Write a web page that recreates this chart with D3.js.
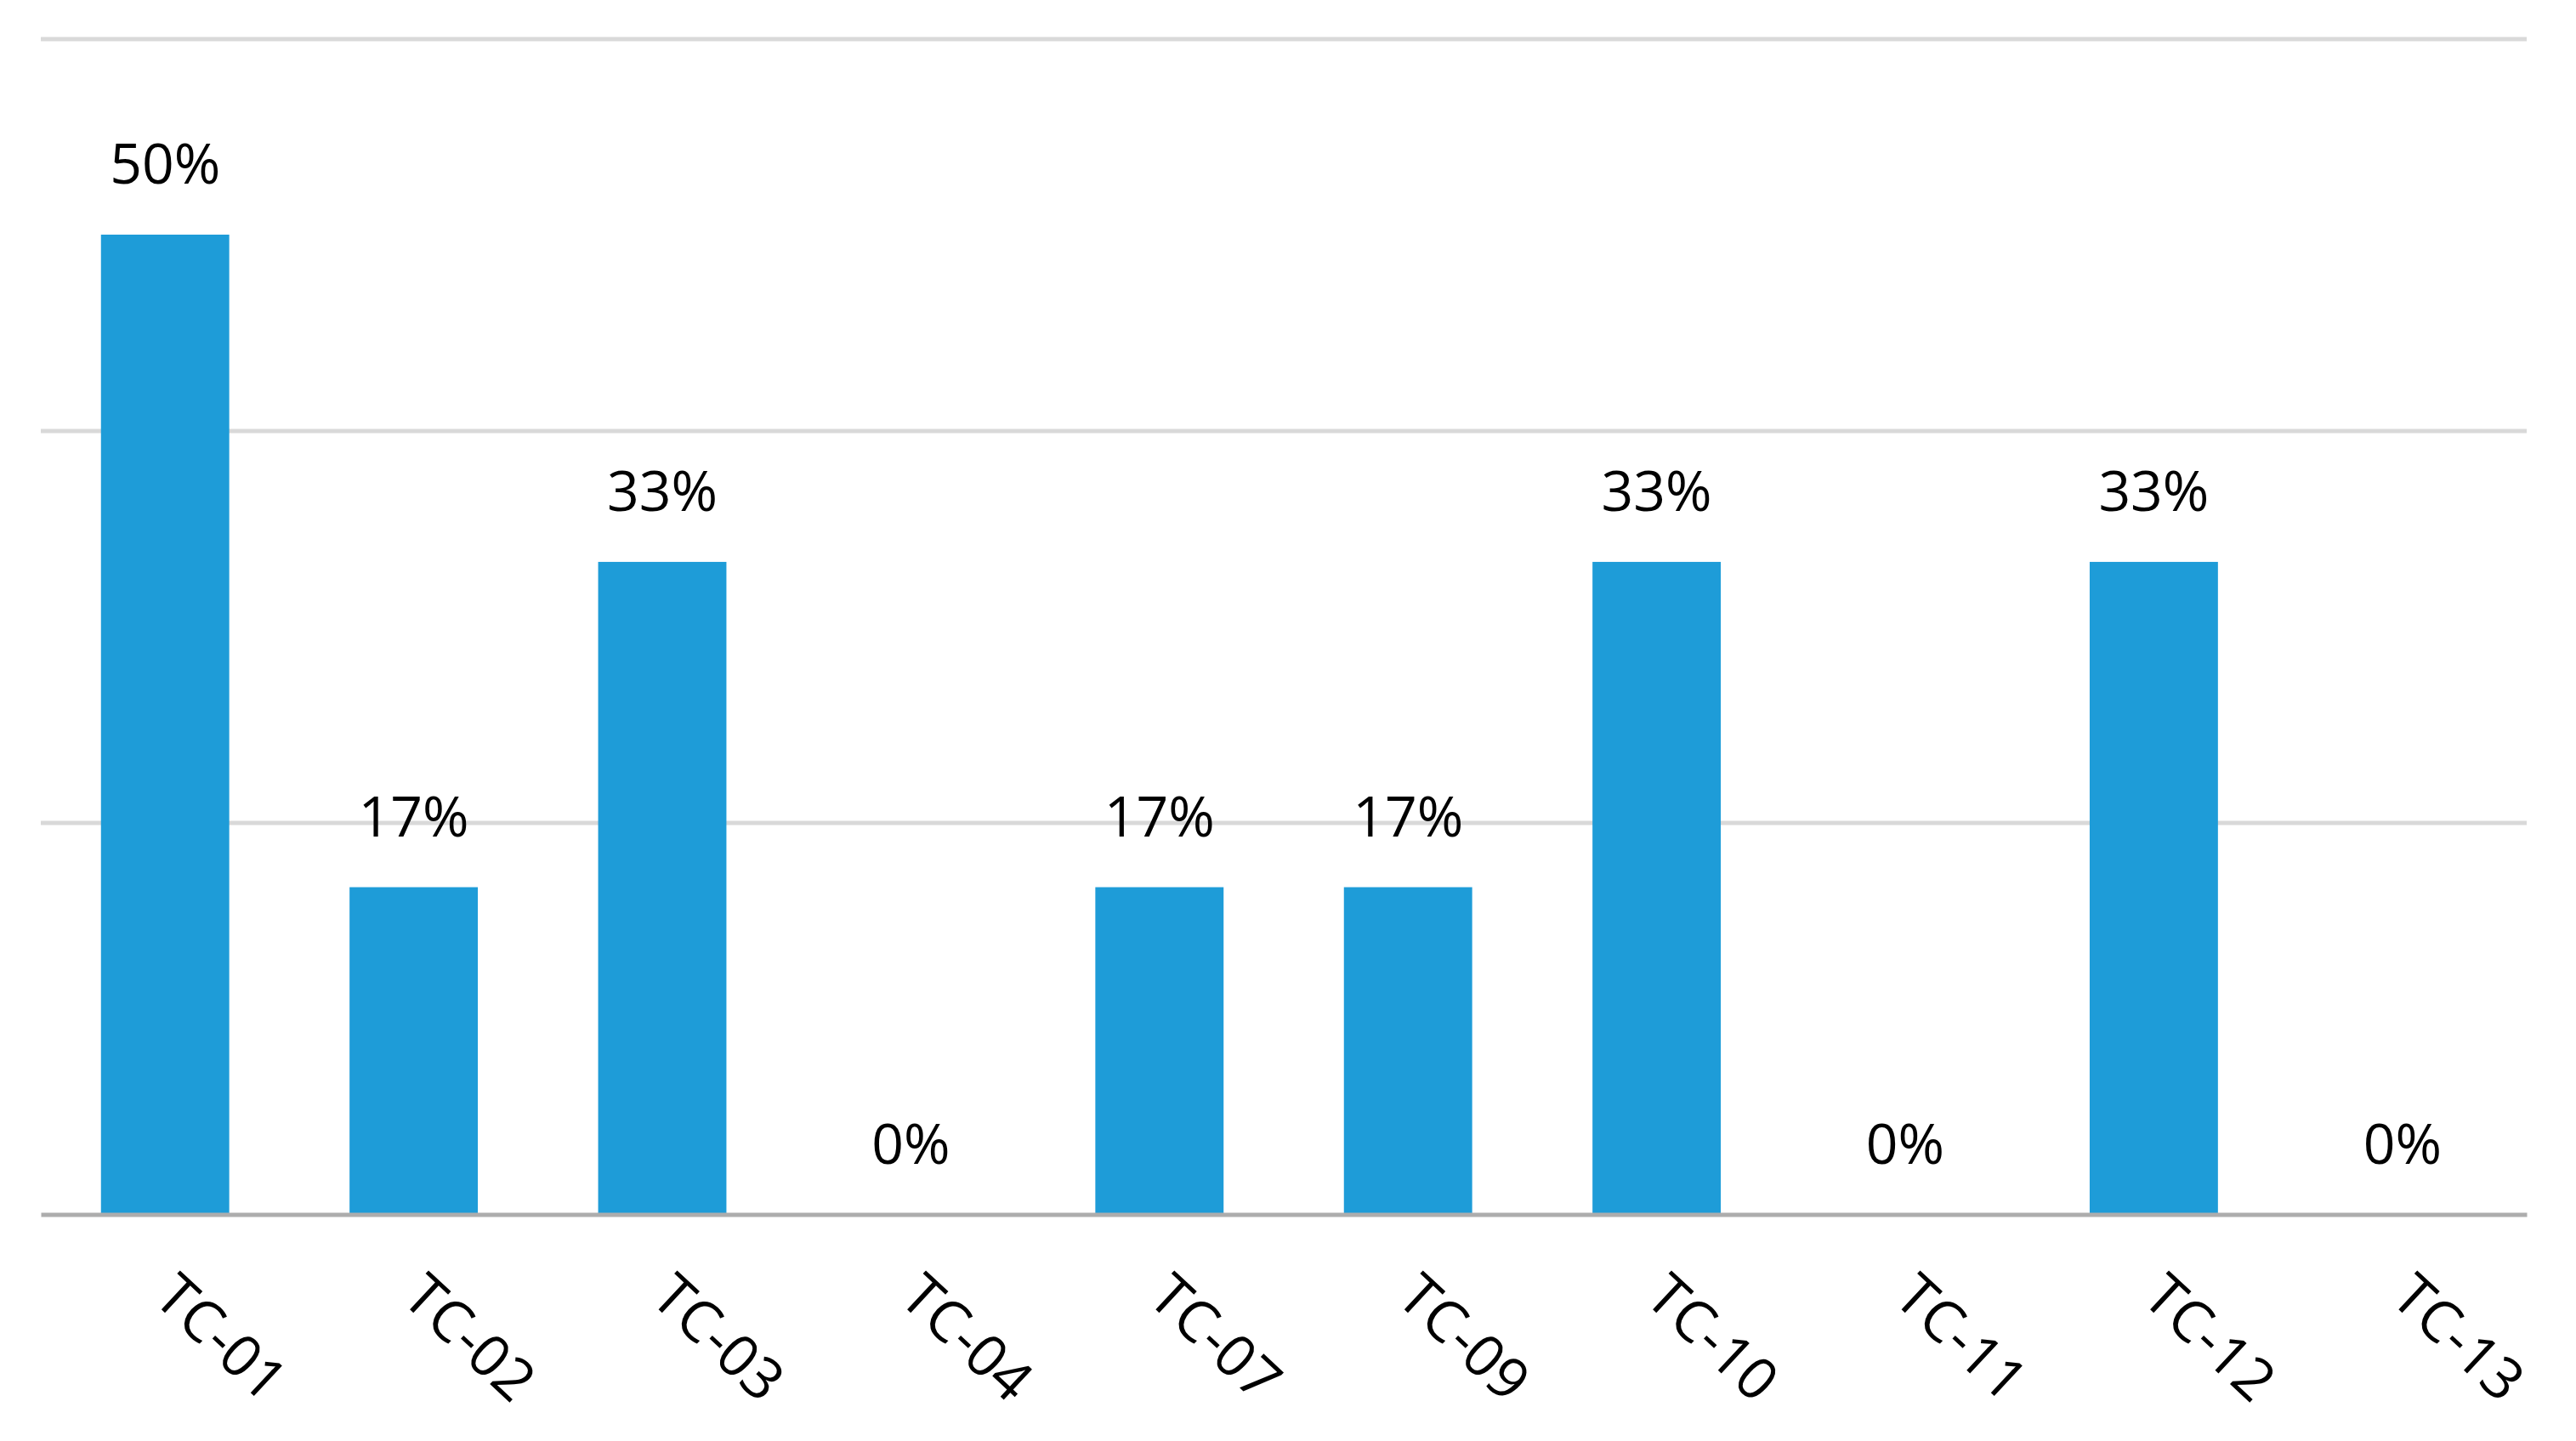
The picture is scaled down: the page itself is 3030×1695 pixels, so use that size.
<!DOCTYPE html>
<html>
<head>
<meta charset="utf-8">
<script src="https://cdn.jsdelivr.net/npm/d3@7"></script>
<style>
  html, body { margin: 0; padding: 0; background: #ffffff; }
  svg { display: block; }
  text { font-family: "Open Sans", "Noto Sans", sans-serif; fill: #000000; }
</style>
</head>
<body>
<svg id="chart" width="3030" height="1695"></svg>
<script>
const categories = ["TC-01", "TC-02", "TC-03", "TC-04", "TC-07", "TC-09", "TC-10", "TC-11", "TC-12", "TC-13"];
const values = [0.5, 0.167, 0.333, 0, 0.167, 0.167, 0.333, 0, 0.333, 0];
const gridTicks = [0.2, 0.4, 0.6];

const W = 3030, H = 1695;
const margin = { left: 48, right: 58, top: 45.5, bottom: 266.5 };
const svg = d3.select("#chart");

const x = d3.scaleBand()
  .domain(categories)
  .range([margin.left, W - margin.right])
  .paddingInner(0.484)
  .paddingOuter(0.242);

const y = d3.scaleLinear()
  .domain([0, 0.6])
  .range([H - margin.bottom, margin.top]);

// gridlines
const grid = svg.append("g")
  .attr("transform", `translate(${margin.left},0)`)
  .call(d3.axisLeft(y).tickValues(gridTicks).tickSize(-(W - margin.left - margin.right)).tickFormat(""));
grid.select(".domain").remove();
grid.selectAll(".tick line").attr("stroke", "#D9D9D9").attr("stroke-width", 5);

// bars
svg.append("g").selectAll("rect")
  .data(categories)
  .join("rect")
  .attr("x", d => x(d))
  .attr("width", x.bandwidth())
  .attr("y", (d, i) => y(values[i]))
  .attr("height", (d, i) => y(0) - y(values[i]))
  .attr("fill", "#1E9CD8");

// x axis
const xAxis = svg.append("g")
  .attr("transform", `translate(0,${y(0)})`)
  .call(d3.axisBottom(x).tickSize(0).tickSizeOuter(0));
xAxis.select(".domain").attr("stroke", "#ADADAD").attr("stroke-width", 5);
xAxis.selectAll(".tick text")
  .attr("y", 0)
  .attr("dy", null)
  .attr("transform", "translate(-16,101) rotate(43)")
  .style("text-anchor", "start")
  .style("font-family", "'Open Sans', 'Noto Sans', sans-serif")
  .style("font-size", "68px")
  .attr("fill", "#000000");

// data labels
const fmt = d3.format(".0%");
svg.append("g").selectAll("text")
  .data(categories)
  .join("text")
  .attr("x", d => x(d) + x.bandwidth() / 2)
  .attr("y", (d, i) => y(values[i]) - 60)
  .attr("text-anchor", "middle")
  .style("font-size", "66px")
  .text((d, i) => fmt(values[i]));
</script>
</body>
</html>
